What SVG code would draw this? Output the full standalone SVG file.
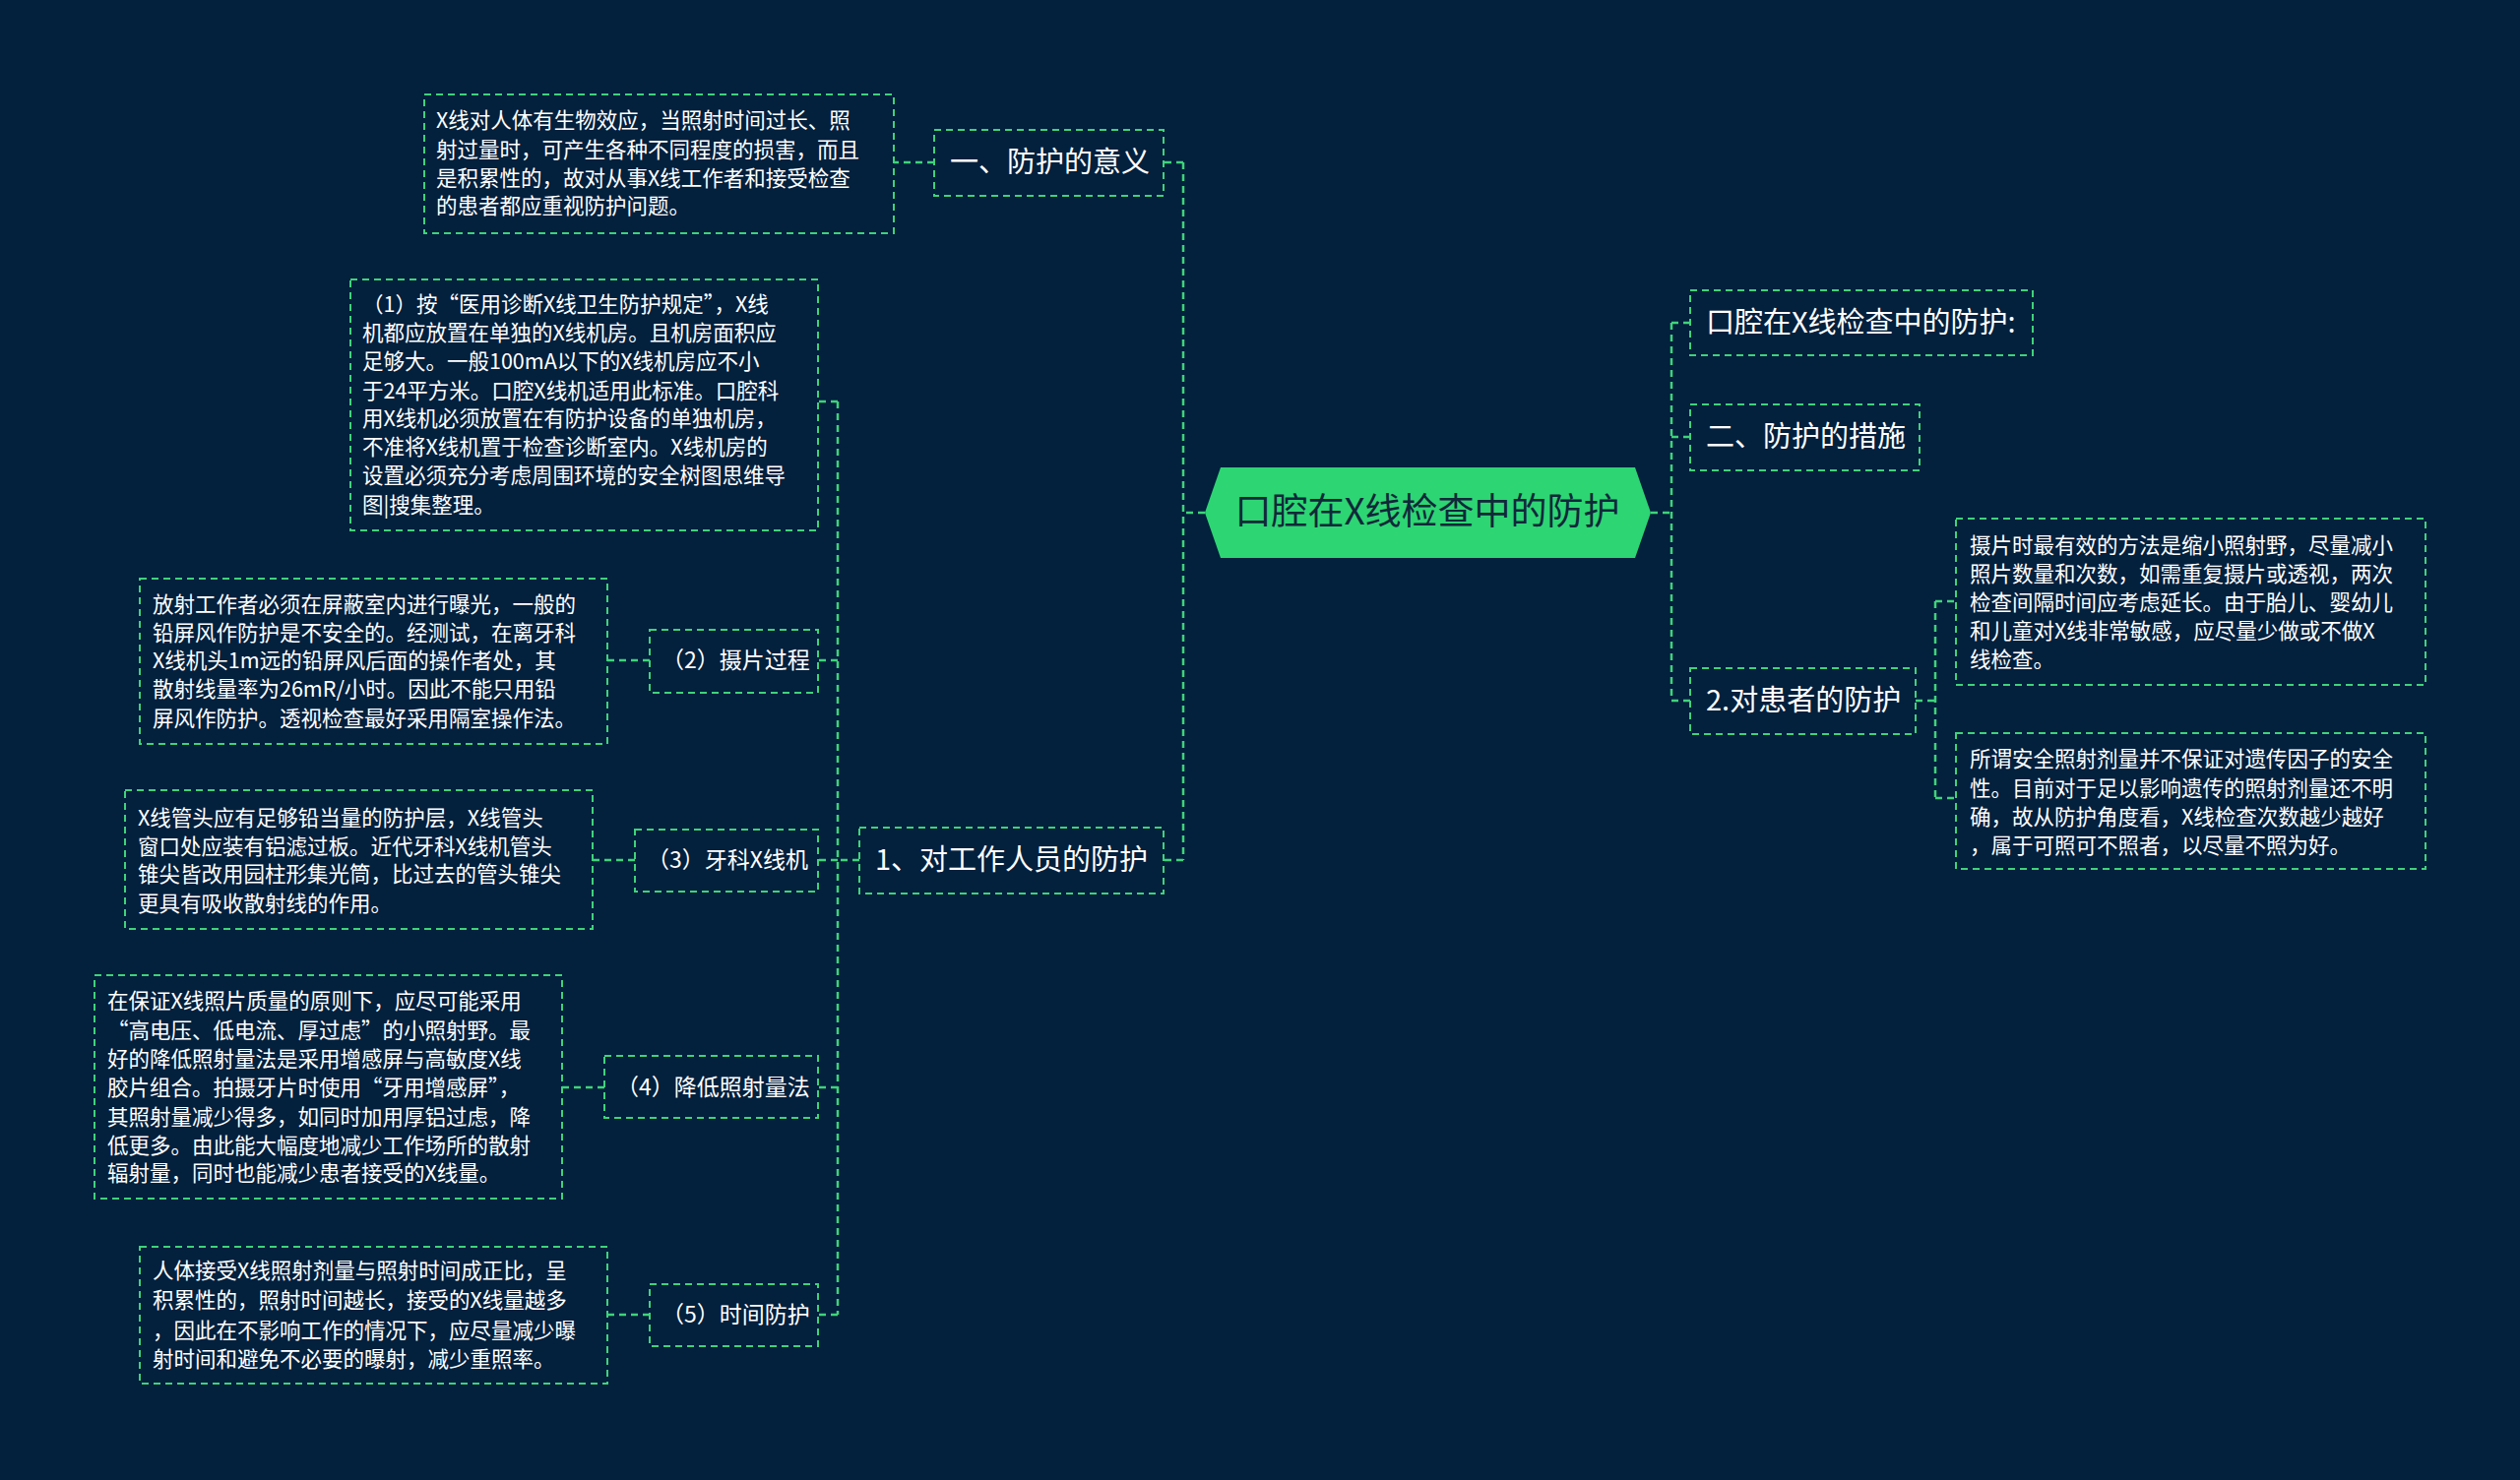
<svg xmlns="http://www.w3.org/2000/svg" width="2560" height="1504" viewBox="0 0 2560 1504">
<style>
.b{fill:none;stroke:#3fd37a;stroke-width:2;stroke-dasharray:7,5}
.c{fill:none;stroke:#3fd37a;stroke-width:2.5;stroke-dasharray:7,5}
.t{font-family:"Noto Sans CJK SC","Liberation Sans",sans-serif;fill:#ffffff}
.m{font-size:29px}
.s{font-size:23px}
.l{font-size:21.5px}
</style>
<rect width="2560" height="1504" fill="#03203d"/>
<g id="connectors">
<path class="c" d="M1224 521 H1202 M1202 165 V874 M1202 165 H1182 M1202 874 H1182"/>
<path class="c" d="M1677 521 H1698 M1698 328 V712 M1698 328 H1717 M1698 444 H1717 M1698 712 H1717"/>
<path class="c" d="M1946 712 H1966 M1966 611 V811 M1966 611 H1987 M1966 811 H1987"/>
<path class="c" d="M949 165 H908"/>
<path class="c" d="M873 874 H851 M851 408 V1336 M851 408 H831 M851 671 H831 M851 874 H831 M851 1105 H831 M851 1336 H831"/>
<path class="c" d="M660 671 H617 M645 874 H602 M614 1105 H571 M660 1336 H617"/>
</g>
<g id="center">
<polygon points="1240,475 1661,475 1677,521 1661,567 1240,567 1224,521" fill="#2ed573"/>
<text class="t" x="1450" y="533" font-size="37" text-anchor="middle" style="fill:#10283a">口腔在X线检查中的防护</text>
</g>
<g id="r1"><rect class="b" x="1717" y="295" width="348" height="66"/><text class="t m" x="1733" y="338">口腔在X线检查中的防护:</text></g>
<g id="r2"><rect class="b" x="1717" y="411" width="233" height="67"/><text class="t m" x="1733" y="454">二、防护的措施</text></g>
<g id="r3"><rect class="b" x="1717" y="679" width="229" height="67"/><text class="t m" x="1733" y="722">2.对患者的防护</text></g>
<g id="r3a"><rect class="b" x="1987" y="527" width="477" height="169"/><text class="t l" x="2001"><tspan x="2001" y="562">摄片时最有效的方法是缩小照射野，尽量减小</tspan><tspan x="2001" y="591">照片数量和次数，如需重复摄片或透视，两次</tspan><tspan x="2001" y="620">检查间隔时间应考虑延长。由于胎儿、婴幼儿</tspan><tspan x="2001" y="649">和儿童对X线非常敏感，应尽量少做或不做X</tspan><tspan x="2001" y="678">线检查。</tspan></text></g>
<g id="r3b"><rect class="b" x="1987" y="745" width="477" height="138"/><text class="t l"><tspan x="2001" y="779">所谓安全照射剂量并不保证对遗传因子的安全</tspan><tspan x="2001" y="809">性。目前对于足以影响遗传的照射剂量还不明</tspan><tspan x="2001" y="838">确，故从防护角度看，X线检查次数越少越好</tspan><tspan x="2001" y="867">，属于可照可不照者，以尽量不照为好。</tspan></text></g>
<g id="l1"><rect class="b" x="949" y="132" width="233" height="67"/><text class="t m" x="965" y="175">一、防护的意义</text></g>
<g id="l1a"><rect class="b" x="431" y="96" width="477" height="141"/><text class="t l"><tspan x="443" y="130">X线对人体有生物效应，当照射时间过长、照</tspan><tspan x="443" y="160">射过量时，可产生各种不同程度的损害，而且</tspan><tspan x="443" y="189">是积累性的，故对从事X线工作者和接受检查</tspan><tspan x="443" y="217">的患者都应重视防护问题。</tspan></text></g>
<g id="l2"><rect class="b" x="873" y="841" width="309" height="67"/><text class="t m" x="889" y="884">1、对工作人员的防护</text></g>
<g id="s1"><rect class="b" x="356" y="284" width="475" height="255"/><text class="t l"><tspan x="368" y="317">（1）按“医用诊断X线卫生防护规定”，X线</tspan><tspan x="368" y="346">机都应放置在单独的X线机房。且机房面积应</tspan><tspan x="368" y="375">足够大。一般100mA以下的X线机房应不小</tspan><tspan x="368" y="405">于24平方米。口腔X线机适用此标准。口腔科</tspan><tspan x="368" y="433">用X线机必须放置在有防护设备的单独机房，</tspan><tspan x="368" y="462">不准将X线机置于检查诊断室内。X线机房的</tspan><tspan x="368" y="491">设置必须充分考虑周围环境的安全树图思维导</tspan><tspan x="368" y="521">图|搜集整理。</tspan></text></g>
<g id="s2"><rect class="b" x="660" y="640" width="171" height="64"/><text class="t s" x="672" y="679">（2）摄片过程</text></g>
<g id="s2a"><rect class="b" x="142" y="588" width="475" height="168"/><text class="t l"><tspan x="155" y="622">放射工作者必须在屏蔽室内进行曝光，一般的</tspan><tspan x="155" y="651">铅屏风作防护是不安全的。经测试，在离牙科</tspan><tspan x="155" y="679">X线机头1m远的铅屏风后面的操作者处，其</tspan><tspan x="155" y="708">散射线量率为26mR/小时。因此不能只用铅</tspan><tspan x="155" y="738">屏风作防护。透视检查最好采用隔室操作法。</tspan></text></g>
<g id="s3"><rect class="b" x="645" y="843" width="186" height="63"/><text class="t s" x="657" y="882">（3）牙科X线机</text></g>
<g id="s3a"><rect class="b" x="127" y="803" width="475" height="141"/><text class="t l"><tspan x="140" y="839">X线管头应有足够铅当量的防护层，X线管头</tspan><tspan x="140" y="868">窗口处应装有铝滤过板。近代牙科X线机管头</tspan><tspan x="140" y="896">锥尖皆改用园柱形集光筒，比过去的管头锥尖</tspan><tspan x="140" y="926">更具有吸收散射线的作用。</tspan></text></g>
<g id="s4"><rect class="b" x="614" y="1073" width="217" height="63"/><text class="t s" x="626" y="1113">（4）降低照射量法</text></g>
<g id="s4a"><rect class="b" x="96" y="991" width="475" height="227"/><text class="t l"><tspan x="109" y="1025">在保证X线照片质量的原则下，应尽可能采用</tspan><tspan x="109" y="1055">“高电压、低电流、厚过虑”的小照射野。最</tspan><tspan x="109" y="1084">好的降低照射量法是采用增感屏与高敏度X线</tspan><tspan x="109" y="1113">胶片组合。拍摄牙片时使用“牙用增感屏”，</tspan><tspan x="109" y="1143">其照射量减少得多，如同时加用厚铝过虑，降</tspan><tspan x="109" y="1172">低更多。由此能大幅度地减少工作场所的散射</tspan><tspan x="109" y="1200">辐射量，同时也能减少患者接受的X线量。</tspan></text></g>
<g id="s5"><rect class="b" x="660" y="1305" width="171" height="63"/><text class="t s" x="672" y="1344">（5）时间防护</text></g>
<g id="s5a"><rect class="b" x="142" y="1267" width="475" height="139"/><text class="t l"><tspan x="155" y="1299">人体接受X线照射剂量与照射时间成正比，呈</tspan><tspan x="155" y="1329">积累性的，照射时间越长，接受的X线量越多</tspan><tspan x="155" y="1360">，因此在不影响工作的情况下，应尽量减少曝</tspan><tspan x="155" y="1389">射时间和避免不必要的曝射，减少重照率。</tspan></text></g>
</svg>
